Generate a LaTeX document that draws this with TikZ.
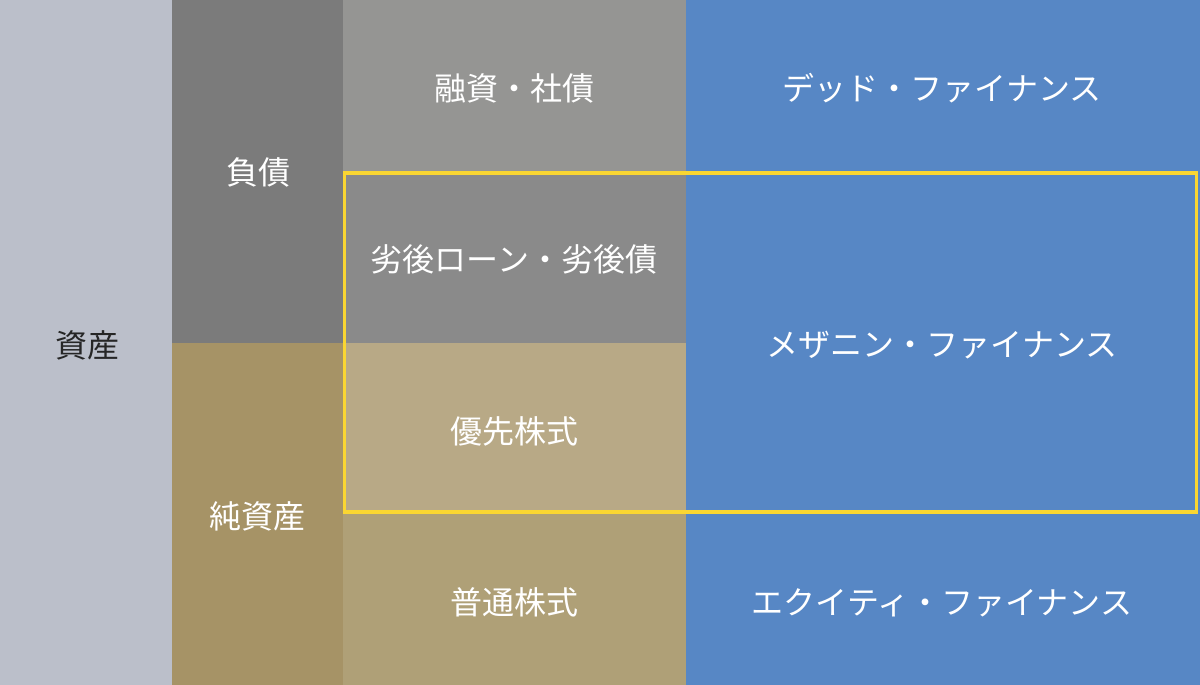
\documentclass[tikz,border=0pt]{standalone}
\usepackage{fontspec}
\setmainfont{Noto Sans CJK JP}
\definecolor{cAsset}{HTML}{BBBFCA}
\definecolor{cDebt}{HTML}{7B7B7B}
\definecolor{cLoan}{HTML}{959593}
\definecolor{cSub}{HTML}{8A8A8A}
\definecolor{cEq}{HTML}{A69366}
\definecolor{cPref}{HTML}{B8A986}
\definecolor{cCom}{HTML}{AFA077}
\definecolor{cBlue}{HTML}{5787C5}
\definecolor{cYel}{HTML}{FAD632}
\tikzset{
  lbl/.style={font=\fontsize{32}{38}\selectfont, text=white, inner sep=0pt},
  lbldark/.style={lbl, text=black!85},
}
\begin{document}
\begin{tikzpicture}[x=1pt,y=-1pt]
\useasboundingbox (0,0) rectangle (1200,685);
\fill[cAsset] (0,0) rectangle (172,685);
\fill[cDebt] (172,0) rectangle (343,343);
\fill[cEq] (172,343) rectangle (343,685);
\fill[cLoan] (343,0) rectangle (686,171);
\fill[cSub] (343,171) rectangle (686,343);
\fill[cPref] (343,343) rectangle (686,514);
\fill[cCom] (343,514) rectangle (686,685);
\fill[cBlue] (686,0) rectangle (1200,685);
\node[draw=cYel, line width=3.2pt, minimum width=852pt, minimum height=339pt, inner sep=0pt] (frame) at (770.5,342.5) {};
\node[lbldark] (asset) at (87,345.5) {資産};
\node[lbl] (debt) at (258,172.5) {負債};
\node[lbl] (equity) at (257,516.5) {純資産};
\node[lbl] (loan) at (514,88.5) {融資・社債};
\node[lbl] (sub) at (514,259.5) {劣後ローン・劣後債};
\node[lbl] (pref) at (514,431.5) {優先株式};
\node[lbl] (com) at (514,602.5) {普通株式};
\node[lbl] (debtfin) at (942,88.5) {デッド・ファイナンス};
\node[lbl] (mezz) at (942,345.5) {メザニン・ファイナンス};
\node[lbl] (eqfin) at (942,602.5) {エクイティ・ファイナンス};
\end{tikzpicture}
\end{document}
